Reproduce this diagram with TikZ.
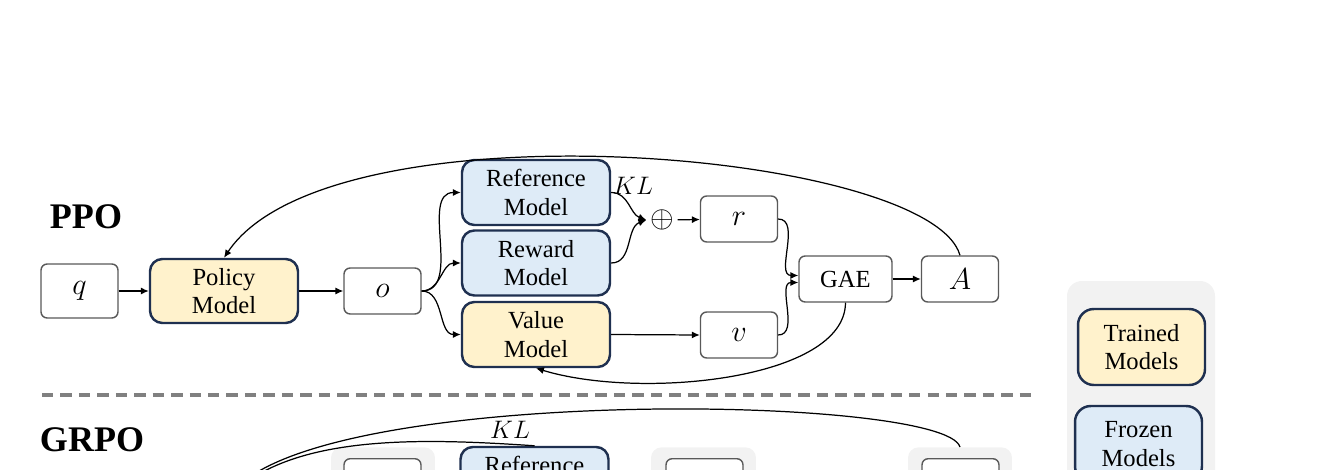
\documentclass[tikz,border=0pt]{standalone}
\usepackage{fontspec}
\setmainfont{Liberation Serif}
\usepackage{amsmath}
\usetikzlibrary{arrows.meta}

\definecolor{trainfill}{HTML}{FFF2CC}
\definecolor{frozenfill}{HTML}{DEEBF7}
\definecolor{modelline}{HTML}{1F3050}
\definecolor{boxline}{HTML}{595959}
\definecolor{groupfill}{HTML}{F2F2F2}
\definecolor{sepline}{HTML}{808080}

\begin{document}
\begin{tikzpicture}[x=0.02cm, y=-0.02cm,
    txt/.style={font=\fontsize{14}{16.4}\selectfont},
    var/.style={font=\fontsize{16}{18}\selectfont, draw=boxline, line width=0.8pt, rounded corners=3.5pt, fill=white,
        minimum width=1.54cm, minimum height=0.92cm, inner sep=0pt},
    model/.style={txt, draw=modelline, line width=1.4pt, rounded corners=7pt,
        minimum width=2.96cm, minimum height=1.3cm, align=center, inner sep=0pt},
    trained/.style={model, fill=trainfill},
    frozen/.style={model, fill=frozenfill},
    group/.style={fill=groupfill, rounded corners=6pt, inner sep=0pt},
    title/.style={font=\fontsize{20.5}{24}\selectfont\bfseries},
    flow/.style={-{Latex[length=4.5pt,width=4pt]}, line width=0.7pt}]

    \useasboundingbox (0,0) rectangle (1340,470);
    \clip (0,0) rectangle (1340,470);

    % Titles
    \node[title] (ppo) at (86,217) {PPO};
    \node[title] (grpo) at (92,440) {GRPO};

    % PPO nodes
    \node[var, minimum height=1.08cm] (q) at (79.5,291) {$q$};
    \node[trained, minimum height=1.28cm] (policy) at (224,291) {Policy\\Model};
    \node[var] (o) at (382.5,291) {$o$};
    \node[frozen] (ref) at (536,192.5) {Reference\\Model};
    \node[frozen] (reward) at (536,263) {Reward\\Model};
    \node[trained] (value) at (536,334.5) {Value\\Model};
    \node[txt] (kl) at (633,186) {$KL$};
    \node[font=\fontsize{18}{20}\selectfont, inner sep=2pt] (plus) at (662,220) {$\oplus$};
    \node[var] (r) at (739,219) {$r$};
    \node[var] (v) at (739,335) {$v$};
    \node[var, txt, minimum width=1.86cm] (gae) at (845.5,279) {GAE};
    \node[var] (adv) at (960,279) {$A$};

    % PPO arrows
    \draw[flow] (q) -- (policy);
    \draw[flow] (policy) -- (o);
    \draw[flow] (o.east) to[out=0,in=180] (ref.west);
    \draw[flow] (o.east) to[out=0,in=180] (reward.west);
    \draw[flow] (o.east) to[out=0,in=180] (value.west);
    \draw[flow] (ref.east) to[out=0,in=160] (plus.west);
    \draw[flow] (reward.east) to[out=0,in=200] (plus.west);
    \draw[flow] (plus) -- (r);
    \draw[flow] (value.east) -- (v.west);
    \draw[flow] (r.east) to[out=0,in=180] ([yshift=2pt]gae.west);
    \draw[flow] (v.east) to[out=0,in=180] ([yshift=-2pt]gae.west);
    \draw[flow] (gae) -- (adv);
    \draw[flow] (adv.north) .. controls (930,150) and (330,100) .. (policy.north);
    \draw[flow] (gae.south) .. controls (845,380) and (640,400) .. (value.south);

    % Separator
    \draw[sepline, line width=2pt, dash pattern=on 6.5pt off 4pt] (42,395) -- (1033,395);

    % Legend
    \fill[groupfill, rounded corners=8.5pt] (1067,281) rectangle (1215,600);
    \node[trained, minimum width=2.54cm, minimum height=1.52cm, rounded corners=9pt] (lgtrain) at (1141.5,347) {Trained\\Models};
    \node[frozen, minimum width=2.54cm, minimum height=1.52cm, rounded corners=9pt] (lgfrozen) at (1138.5,444) {Frozen\\Models};

    % GRPO nodes
    \coordinate (gpolicy) at (230,495);
    \node[group, minimum width=2.08cm, minimum height=4cm, anchor=north] (gout) at (383,447) {};
    \node[var, anchor=north] (go) at (382.5,458) {};
    \node[frozen] (gref) at (534.5,479.5) {Reference\\Model};
    \node[txt] (gkl) at (510,430) {$KL$};
    \node[group, minimum width=2.1cm, minimum height=4cm, anchor=north] (grew) at (703.5,447) {};
    \node[var, anchor=north] (gr) at (704.5,458) {};
    \node[group, minimum width=2.08cm, minimum height=4cm, anchor=north] (gadv) at (960,447) {};
    \node[var, anchor=north] (ga) at (960.5,458) {};

    % GRPO arrows
    \draw[flow] (gref.north) .. controls (420,438) and (300,435) .. (gpolicy);
    \draw[flow] (gadv.north) .. controls (945,395) and (330,385) .. (gpolicy);

\end{tikzpicture}
\end{document}
